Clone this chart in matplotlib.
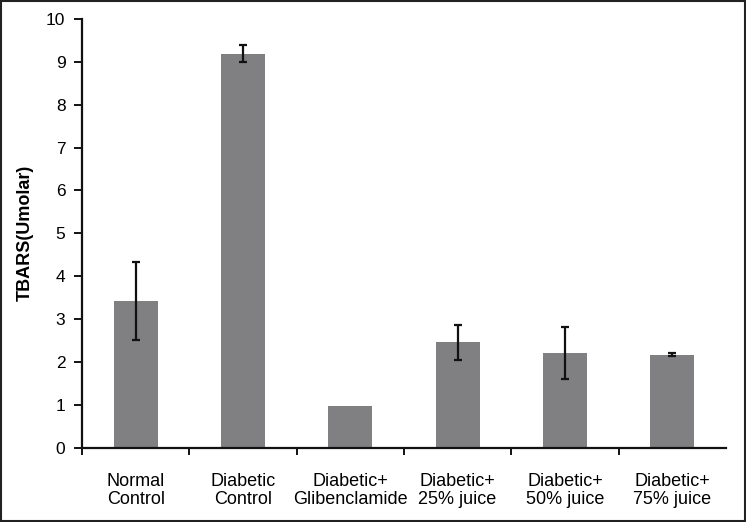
import matplotlib.pyplot as plt
from matplotlib.patches import Rectangle
import numpy as np

plt.rcParams['font.family'] = ['Liberation Sans', 'DejaVu Sans']

groups = ['Normal\nControl', 'Diabetic\nControl', 'Diabetic+\nGlibenclamide',
          'Diabetic+\n25% juice', 'Diabetic+\n50% juice', 'Diabetic+\n75% juice']
tbars = [3.43, 9.19, 0.97, 2.46, 2.21, 2.17]
tbars_err = [0.91, 0.20, 0.0, 0.41, 0.60, 0.03]

fig = plt.figure(figsize=(7.46, 5.22), dpi=100)
ax = fig.add_axes([0.110, 0.142, 0.863, 0.822])

x = np.arange(len(groups))
ax.bar(x, tbars, width=0.41, color='#808083', zorder=2)

# no visible error bar for the glibenclamide group
has_err = np.array(tbars_err) > 0
ax.errorbar(x[has_err], np.array(tbars)[has_err], yerr=np.array(tbars_err)[has_err],
            fmt='none', ecolor='#111111', elinewidth=1.6, capsize=3.2,
            capthick=1.6, zorder=3)

ax.set_xlim(-0.5, len(groups) - 0.5)
ax.set_ylim(0, 10)
ax.set_yticks(range(0, 11))
ax.set_xticks(x)
ax.set_xticklabels(groups, fontsize=13, linespacing=1.1)
ax.set_xticks(np.arange(-0.5, len(groups) - 1), minor=True)
ax.tick_params(axis='x', which='major', length=0, pad=18)
ax.tick_params(axis='x', which='minor', length=5, width=1.3, direction='out')
ax.tick_params(axis='y', length=6, width=1.3, direction='out', pad=6, labelsize=12.5)

for side in ['top', 'right']:
    ax.spines[side].set_visible(False)
for side in ['left', 'bottom']:
    ax.spines[side].set_linewidth(1.6)
    ax.spines[side].set_color('#111111')

ax.set_ylabel('TBARS(Umolar)', fontsize=13, fontweight='bold', labelpad=9)

fig.patches.append(Rectangle((0.001, 0.001), 0.998, 0.997, transform=fig.transFigure,
                             fill=False, edgecolor='#222222', linewidth=1.5))

fig.savefig('out.png', dpi=100)
plt.close(fig)
